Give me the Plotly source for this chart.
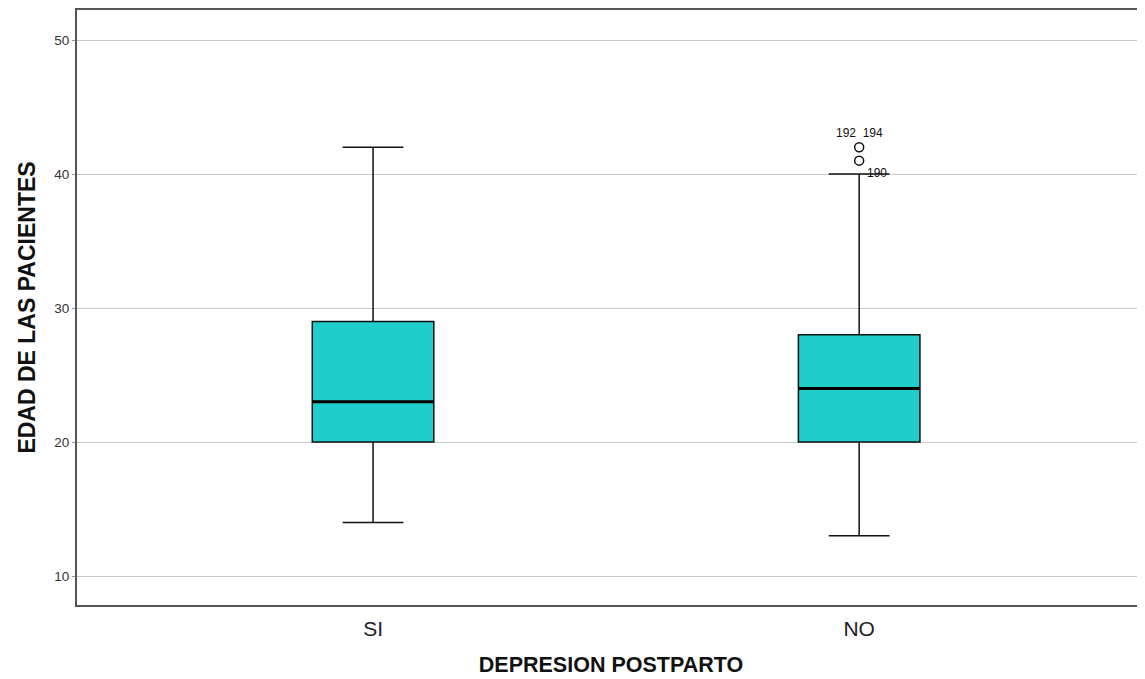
import plotly.graph_objects as go

# ---- data ----
categories = ["SI", "NO"]
lower_whisker = [14, 13]
q1_vals = [20, 20]
median_vals = [23, 24]
q3_vals = [29, 28]
upper_whisker = [42, 40]

outlier_cat = ["NO", "NO"]
outlier_vals = [42, 41]
outlier_labels = ["192  194", "190"]

y_ticks = [10, 20, 30, 40, 50]

BOX_W = 0.25
FILL = "#1FCDCB"

fig = go.Figure()
pos = {c: i for i, c in enumerate(categories)}

for i, c in enumerate(categories):
    fig.add_trace(go.Box(
        x=[pos[c]],
        q1=[q1_vals[i]], median=[median_vals[i]], q3=[q3_vals[i]],
        lowerfence=[lower_whisker[i]], upperfence=[upper_whisker[i]],
        width=BOX_W, whiskerwidth=0.5,
        fillcolor=FILL,
        line=dict(color="#111111", width=1.5),
        boxpoints=False, showlegend=False, hoverinfo="skip",
    ))
    # thicker median line
    fig.add_trace(go.Scatter(
        x=[pos[c] - BOX_W / 2, pos[c] + BOX_W / 2],
        y=[median_vals[i], median_vals[i]],
        mode="lines", line=dict(color="#000000", width=3),
        showlegend=False, hoverinfo="skip",
    ))

fig.add_trace(go.Scatter(
    x=[pos[c] for c in outlier_cat], y=outlier_vals,
    mode="markers",
    marker=dict(symbol="circle-open", size=9, color="#111111", line=dict(width=1.5)),
    showlegend=False, hoverinfo="skip",
))

label_shift = [(0, 14), (18, -12)]
for c, v, t, (dx, dy) in zip(outlier_cat, outlier_vals, outlier_labels, label_shift):
    fig.add_annotation(x=pos[c], y=v, text=t, showarrow=False,
                       xshift=dx, yshift=dy,
                       font=dict(family="Liberation Sans, Arial", size=12, color="#111111"))

# page body adds an 8px offset; compensate so the plot area lands where the reference has it
fig.update_layout(
    width=1137, height=671,
    margin=dict(l=69, r=0, t=2, b=74),
    paper_bgcolor="white", plot_bgcolor="white",
    font=dict(family="Liberation Sans, Arial", color="#222222"),
)

fig.update_xaxes(
    range=[-0.609, 1.588],
    tickmode="array", tickvals=list(range(len(categories))), ticktext=categories,
    tickfont=dict(size=21, color="#222222"),
    ticks="outside", ticklen=4, tickcolor="rgba(0,0,0,0)",
    showgrid=False, zeroline=False,
    showline=True, linecolor="#555555", linewidth=2, mirror=True,
    title=dict(text="<b>DEPRESION POSTPARTO</b>", font=dict(size=21.5, color="#111111"), standoff=18),
)
fig.update_yaxes(
    range=[7.84, 52.24],
    tickvals=y_ticks,
    tickfont=dict(size=13.5, color="#333333"),
    ticks="outside", ticklen=3, tickcolor="#999999",
    showgrid=True, gridcolor="#C8C8C8", gridwidth=1, zeroline=False,
    showline=True, linecolor="#555555", linewidth=2,
    title=dict(text="<b>EDAD DE LAS PACIENTES</b>", font=dict(size=23, color="#111111"), standoff=12),
)

fig.write_html("out.html")
